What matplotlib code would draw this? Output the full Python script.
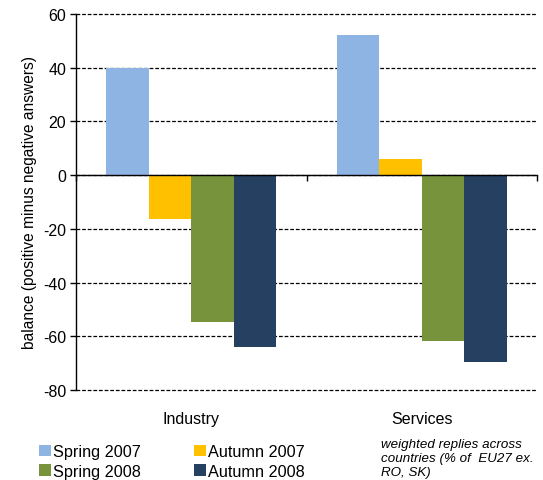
import numpy as np
import matplotlib
matplotlib.use('Agg')
import matplotlib.pyplot as plt
from matplotlib.transforms import blended_transform_factory

plt.rcParams['font.family'] = ['Liberation Sans', 'DejaVu Sans']
plt.rcParams['axes.unicode_minus'] = False

# balance of replies per sector and survey wave
categories = ['Industry', 'Services']
series = ['Spring 2007', 'Autumn 2007', 'Spring 2008', 'Autumn 2008']
spring_2007 = [40.0, 52.0]
autumn_2007 = [-16.4, 6.1]
spring_2008 = [-54.6, -61.8]
autumn_2008 = [-64.0, -69.5]
colors = ['#8EB4E3', '#FFC000', '#77933C', '#254061']
note = 'weighted replies across\ncountries (% of  EU27 ex.\nRO, SK)'

values = [spring_2007, autumn_2007, spring_2008, autumn_2008]

fig = plt.figure(figsize=(5.43, 4.81), dpi=100)
ax = fig.add_axes([0.140, 0.187, 0.849, 0.782])

x = np.arange(len(categories))
w = 0.184
handles = []
for i, (name, vals, c) in enumerate(zip(series, values, colors)):
    b = ax.bar(x + (i - 1.5) * w, vals, w, color=c, edgecolor='none',
               label=name, zorder=3)
    handles.append(b)

ax.set_xlim(-0.5, 1.5)
ax.set_ylim(-80, 60)
ax.set_yticks(np.arange(-80, 61, 20))
ax.yaxis.grid(True, color='black', linestyle=(0, (3, 1.5)), linewidth=0.9, zorder=1)
ax.set_axisbelow(True)
for gl in ax.get_ygridlines():
    gl.set_clip_on(False)

for s in ['top', 'right']:
    ax.spines[s].set_visible(False)
ax.spines['left'].set_linewidth(1.0)
ax.spines['bottom'].set_position(('data', 0))
ax.spines['bottom'].set_linewidth(1.0)
ax.spines['bottom'].set_zorder(4)

# category boundary ticks on the zero line
ax.set_xticks([-0.5, 0.5, 1.5])
ax.set_xticklabels([])
ax.tick_params(axis='x', direction='out', length=4, width=1)
ax.tick_params(axis='y', direction='out', length=4, width=1, labelsize=11.5, pad=3)

tr = blended_transform_factory(ax.transData, ax.transAxes)
for xi, cat in zip(x, categories):
    ax.text(xi, -0.075, cat, transform=tr, ha='center', va='center', fontsize=11.5)

ax.set_ylabel('balance (positive minus negative answers)', fontsize=11.2, labelpad=4)

# legend filled row by row: 2007 on top, 2008 below
order = [0, 2, 1, 3]
fig.legend(handles=[handles[i] for i in order], labels=[series[i] for i in order],
           ncol=2, loc='upper left', bbox_to_anchor=(0.0718, 0.075),
           frameon=False, fontsize=11.7,
           handlelength=0.75, handleheight=0.7, handletextpad=0.1,
           columnspacing=3.3, labelspacing=0.3, borderaxespad=0, borderpad=0)

fig.text(0.702, 0.088, note, ha='left', va='top', fontsize=9.6, style='italic',
         linespacing=1.22)

fig.savefig('out.png', dpi=100)
